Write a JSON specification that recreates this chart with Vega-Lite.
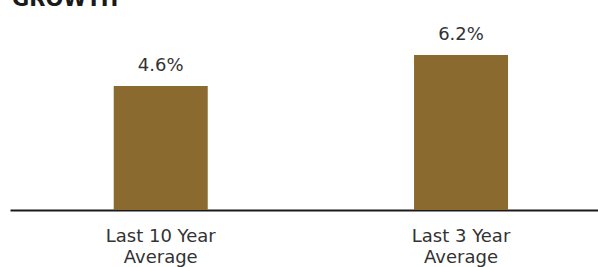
{
  "$schema": "https://vega.github.io/schema/vega-lite/v6.json",
  "width": 588,
  "height": 180,
  "autosize": {"type": "none"},
  "padding": {"left": 10, "top": 30, "right": 0, "bottom": 57},
  "background": "white",
  "config": {"view": {"stroke": null}},
  "title": {
    "text": "GROWTH¹",
    "anchor": "start",
    "frame": "group",
    "offset": 16,
    "dx": 2,
    "font": "DejaVu Sans",
    "fontSize": 21,
    "fontWeight": "bold",
    "color": "#1a1a1a"
  },
  "data": {
    "values": [
      {"period": "Last 10 Year Average", "value": 4.6, "label": "4.6%"},
      {"period": "Last 3 Year Average", "value": 6.2, "label": "6.2%"}
    ]
  },
  "encoding": {
    "x": {
      "field": "period",
      "type": "nominal",
      "sort": null,
      "scale": {"paddingInner": 0.5, "paddingOuter": 0.229, "align": 0.55},
      "axis": {
        "title": null,
        "labelAngle": 0,
        "ticks": false,
        "grid": false,
        "domainColor": "#1a1a1a",
        "domainWidth": 2,
        "labelPadding": 17,
        "labelFont": "DejaVu Sans",
        "labelFontSize": 18,
        "labelColor": "#333333",
        "labelLineHeight": 21,
        "labelExpr": "[replace(datum.label, ' Average', ''), 'Average']"
      }
    }
  },
  "layer": [
    {
      "mark": {"type": "bar", "color": "#8a6a2e", "size": 94},
      "encoding": {
        "y": {"field": "value", "type": "quantitative", "scale": {"domain": [-1.8, 7.49], "nice": false, "zero": false}, "axis": null},
        "y2": {"datum": -1.8}
      }
    },
    {
      "mark": {"type": "text", "baseline": "alphabetic", "dy": -14.5, "font": "DejaVu Sans", "fontSize": 18, "color": "#333333"},
      "encoding": {
        "y": {"field": "value", "type": "quantitative", "scale": {"domain": [-1.8, 7.49], "nice": false, "zero": false}, "axis": null},
        "text": {"field": "label"}
      }
    }
  ]
}
